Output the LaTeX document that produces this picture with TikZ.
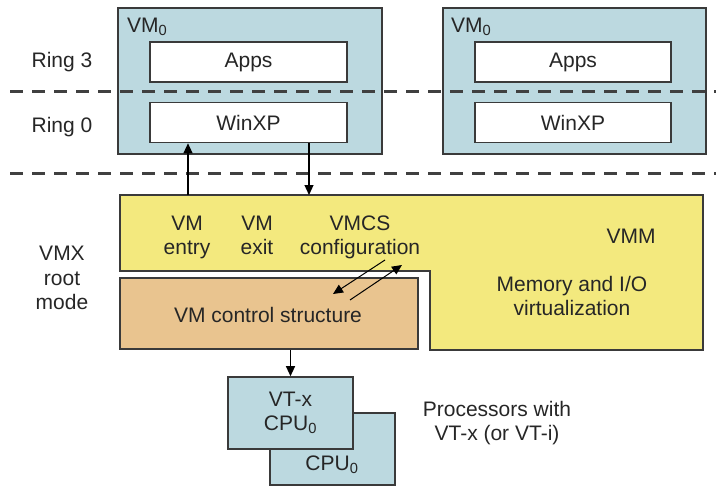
\documentclass[tikz,border=0pt]{standalone}
\usepackage{fontspec}
\setmainfont{Liberation Sans}
\usetikzlibrary{arrows.meta}
\definecolor{vmblue}{HTML}{BCD9E0}
\definecolor{vmmyellow}{HTML}{F3E97E}
\definecolor{vmcsorange}{HTML}{E9C48F}
\definecolor{edge}{HTML}{3A3A3A}
\definecolor{txt}{HTML}{262626}
\begin{document}
\begin{tikzpicture}[x=1pt,y=-1pt,
  every node/.style={font=\fontsize{21}{24.5}\selectfont, text=txt, align=center, inner sep=0pt},
  box/.style={draw=edge, line width=1.6pt, minimum width=#1, anchor=center},
  vmbox/.style={box=264pt, fill=vmblue, minimum height=146pt},
  inbox/.style={box=197pt, fill=white, minimum height=40pt},
  cpubox/.style={box=125pt, fill=vmblue, minimum height=72pt},
  ringline/.style={draw=black!75, line width=3pt, dash pattern=on 13pt off 9pt},
  arr/.style={draw=black, line width=1.2pt, -{Triangle[length=10pt,width=9pt]}}]
\useasboundingbox (0,0) rectangle (716,487);

% dashed ring separators
\coordinate (d1a) at (10,92); \coordinate (d1b) at (716,92);
\coordinate (d2a) at (10,173); \coordinate (d2b) at (716,173);

% VMs
\node[vmbox] (vmL) at (250,81) {};
\node[vmbox, minimum width=263pt] (vmR) at (574.5,81) {};
\node[inbox] (appsL) at (248.5,62) {Apps};
\node[inbox] (winL) at (248.5,122.5) {WinXP};
\node[inbox, minimum width=196pt] (appsR) at (573,62) {Apps};
\node[inbox, minimum width=196pt] (winR) at (573,122.5) {WinXP};
\node[anchor=west] (vmLlab) at (127,27) {VM\textsubscript{0}};
\node[anchor=west] (vmRlab) at (451,27) {VM\textsubscript{0}};

\draw[ringline] (d1a) -- (d1b);
\draw[ringline] (d2a) -- (d2b);

% VMM (L-shaped)
\draw[draw=edge, line width=1.6pt, fill=vmmyellow]
  (120,195) coordinate (vmmTL) -- (703,195) -- (703,350) -- (430,350)
  -- (430,271) -- (120,271) -- cycle;
\node[box=298pt, fill=vmcsorange, minimum height=71pt] (vmcs) at (269,313.5) {};
\node (vmcslab) at (268,315) {VM control structure};

% texts in VMM
\node[anchor=north] (entry) at (187,215.5) {VM\\entry};
\node[anchor=north] (exit) at (257,215.5) {VM\\exit};
\node[anchor=north] (config) at (360,215.5) {VMCS\\configuration};
\node (vmm) at (631,236) {VMM};
\node (memio) at (572,296) {Memory and I/O\\virtualization};

% left labels
\node (ring3) at (62,62) {Ring 3};
\node (ring0) at (62,127) {Ring 0};
\node (vmx) at (62,278) {VMX\\root\\mode};

% CPUs
\node[cpubox] (cpuB) at (332.5,449) {};
\node (cpuBlab) at (332,465) {CPU\textsubscript{0}};
\node[cpubox] (cpuF) at (290.5,413) {VT-x\\CPU\textsubscript{0}};
\node (proc) at (497,423) {Processors with\\VT-x (or VT-i)};

% connectors
\coordinate (entryB) at (188,195);
\coordinate (exitB) at (309,195);
\draw[arr] (entryB) -- (winL.south -| entryB);
\draw[arr] (winL.south -| exitB) -- (exitB);
\coordinate (c1) at (385,260); \coordinate (c2) at (333,294);
\coordinate (c3) at (350,300); \coordinate (c4) at (402,265);
\draw[arr, line width=1pt] (c1) -- (c2);
\draw[arr, line width=1pt] (c3) -- (c4);
\draw[arr] (vmcs.south -| cpuF) -- (cpuF.north);
\end{tikzpicture}
\end{document}
